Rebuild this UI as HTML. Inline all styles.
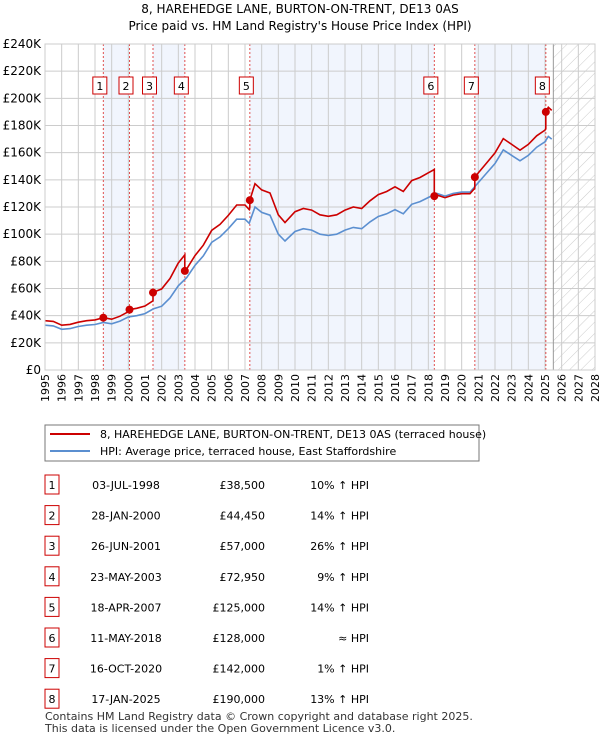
<!DOCTYPE html>
<html><head><meta charset="utf-8"><style>
body{margin:0;background:#fff;font-family:"DejaVu Sans","Liberation Sans",sans-serif;}
svg text{font-family:"DejaVu Sans","Liberation Sans",sans-serif;}
</style></head><body>
<svg id="c" width="600" height="740" xmlns="http://www.w3.org/2000/svg">
<defs><pattern id="hatch" width="8" height="8" patternUnits="userSpaceOnUse" patternTransform="rotate(45)"><line x1="0" y1="0" x2="0" y2="8" stroke="#ccc" stroke-width="1"/></pattern></defs>
<text x="300" y="13" text-anchor="middle" font-size="12" fill="#000">8, HAREHEDGE LANE, BURTON-ON-TRENT, DE13 0AS</text>
<text x="300" y="30" text-anchor="middle" font-size="12" fill="#000">Price paid vs. HM Land Registry's House Price Index (HPI)</text>
<g id="plot"></g>
<rect x="45" y="425" width="434" height="36" fill="#fff" stroke="#777"/>
<line x1="50" y1="434" x2="90" y2="434" stroke="#cc0000" stroke-width="2"/>
<text x="100" y="438" font-size="11">8, HAREHEDGE LANE, BURTON-ON-TRENT, DE13 0AS (terraced house)</text>
<line x1="50" y1="451" x2="90" y2="451" stroke="#5b8fd0" stroke-width="2"/>
<text x="100" y="455" font-size="11">HPI: Average price, terraced house, East Staffordshire</text>
<g id="table"></g>
<text x="45" y="720" font-size="11" fill="#333">Contains HM Land Registry data © Crown copyright and database right 2025.</text>
<text x="45" y="732" font-size="11" fill="#333">This data is licensed under the Open Government Licence v3.0.</text>
</svg>
<script>
const yearTicks=[1995,1996,1997,1998,1999,2000,2001,2002,2003,2004,2005,2006,2007,2008,2009,2010,2011,2012,2013,2014,2015,2016,2017,2018,2019,2020,2021,2022,2023,2024,2025,2026,2027,2028];
const priceTicks=[0,20,40,60,80,100,120,140,160,180,200,220,240];
const hpiYears=[1995,1995.5,1996,1996.5,1997,1997.5,1998,1998.5,1999,1999.5,2000,2000.5,2001,2001.5,2002,2002.5,2003,2003.5,2004,2004.5,2005,2005.5,2006,2006.5,2007,2007.25,2007.6,2008,2008.5,2009,2009.4,2010,2010.5,2011,2011.5,2012,2012.5,2013,2013.5,2014,2014.5,2015,2015.5,2016,2016.5,2017,2017.5,2018,2018.5,2019,2019.5,2020,2020.5,2021,2021.5,2022,2022.5,2023,2023.5,2024,2024.5,2025,2025.2,2025.4];
const hpiValues=[33,32.5,30,30.5,32,33,33.5,35,34,36,39,40,41.5,45,47,53,62,68,77,84,94,98,104,111,111,108,120,116,114,100,95,102,104,103,100,99,100,103,105,104,109,113,115,118,115,122,124,127,130,128,130,131,131,138,145,152,162,158,154,158,164,168,172,170];
const saleLabels=["1","2","3","4","5","6","7","8"];
const saleDates=[1998.5,2000.07,2001.48,2003.39,2007.29,2018.36,2020.79,2025.05];
const salePrices=[38.5,44.45,57,72.95,125,128,142,190];
const saleDateText=["03-JUL-1998","28-JAN-2000","26-JUN-2001","23-MAY-2003","18-APR-2007","11-MAY-2018","16-OCT-2020","17-JAN-2025"];
const salePriceText=["£38,500","£44,450","£57,000","£72,950","£125,000","£128,000","£142,000","£190,000"];
const saleHpiText=["10% ↑ HPI","14% ↑ HPI","26% ↑ HPI","9% ↑ HPI","14% ↑ HPI","≈ HPI","1% ↑ HPI","13% ↑ HPI"];

const X0=45,X1=595,Y0=370,Y1=44;
const xs=y=>X0+(y-1995)/(2028-1995)*(X1-X0);
const ys=v=>Y0-v/240*(Y0-Y1);
const NS="http://www.w3.org/2000/svg";
const plot=document.getElementById('plot');
function mk(tag,attrs,parent){const e=document.createElementNS(NS,tag);for(const k in attrs)e.setAttribute(k,attrs[k]);(parent||plot).appendChild(e);return e;}
function hpiAt(t){if(t<=hpiYears[0])return hpiValues[0];for(let i=1;i<hpiYears.length;i++){if(t<=hpiYears[i]){const f=(t-hpiYears[i-1])/(hpiYears[i]-hpiYears[i-1]);return hpiValues[i-1]+f*(hpiValues[i]-hpiValues[i-1]);}}return hpiValues[hpiValues.length-1];}

for(let i=0;i+1<saleDates.length;i+=2){
 const r=mk('rect',{x:xs(saleDates[i]),y:Y1,width:xs(saleDates[i+1])-xs(saleDates[i]),height:Y0-Y1,fill:'#eef3fc',opacity:0.8});
 
 
}
const lastT=hpiYears[hpiYears.length-1]+0.1;
const h=mk('rect',{x:xs(lastT),y:Y1,width:X1-xs(lastT),height:Y0-Y1,fill:'url(#hatch)'});


yearTicks.forEach(t=>{
 const l=mk('line',{x1:xs(t),x2:xs(t),y1:Y1,y2:Y0,stroke:'#ccc','stroke-width':1});
 
 
 const tx=mk('text',{x:0,y:0,'font-size':11,transform:`translate(${xs(t)+4},${Y0+32}) rotate(-90)`});
 tx.textContent=t;
 
 
});
priceTicks.forEach(v=>{
 const l=mk('line',{x1:X0,x2:X1,y1:ys(v),y2:ys(v),stroke:'#ccc','stroke-width':1});
 
 
 const tx=mk('text',{x:X0-4,y:ys(v)+4,'font-size':12,'text-anchor':'end'});
 tx.textContent=v===0?'£0':'£'+v+'K';
 
 
});
const vl=mk('line',{x1:xs(lastT),x2:xs(lastT),y1:Y1,y2:Y0,stroke:'#999'});


saleDates.forEach((d,i)=>{
 const l=mk('line',{x1:xs(d),x2:xs(d),y1:Y1,y2:Y0,stroke:'#e05050','stroke-width':1,'stroke-dasharray':'2,2'});
 
 
});
let dH='';hpiYears.forEach((t,i)=>{dH+=(i?'L':'M')+xs(t).toFixed(1)+','+ys(hpiValues[i]).toFixed(1);});
const hp=mk('path',{d:dH,fill:'none',stroke:'#5b8fd0','stroke-width':1.6});


const ratios=saleDates.map((d,i)=>salePrices[i]/hpiAt(d));
const pts=[];
hpiYears.forEach(t=>pts.push(t));saleDates.forEach(t=>{pts.push(t-0.001);pts.push(t);});
pts.sort((a,b)=>a-b);
let dR='';pts.forEach((t,i)=>{let k=0;for(let j=0;j<saleDates.length;j++)if(t>=saleDates[j])k=j;dR+=(i?'L':'M')+xs(t).toFixed(1)+','+ys(hpiAt(t)*ratios[k]).toFixed(1);});
const rp=mk('path',{d:dR,fill:'none',stroke:'#cc0000','stroke-width':1.6});


saleDates.forEach((d,i)=>{
 const c=mk('circle',{cx:xs(d),cy:ys(salePrices[i]),r:4,fill:'#cc0000'});
 
 
 const cx=xs(d)-3.5;
 const bx=mk('rect',{x:cx-7,y:77,width:14,height:17,fill:'#fff',stroke:'#cc0000'});
 
 
 const tx=mk('text',{x:cx,y:90,'font-size':11,'text-anchor':'middle'});
 tx.textContent=saleLabels[i];
 
 
});
mk('rect',{x:X0,y:Y1,width:X1-X0,height:Y0-Y1,fill:'none',stroke:'#ccc'});
const tb=document.getElementById('table');
saleLabels.forEach((s,i)=>{
 const y=485+i*30.6;
 const b=mk('rect',{x:45,y:y-10,width:14,height:19,fill:'#fff',stroke:'#cc0000'},tb);
 
 
 const cells=[[52,'middle',s],[126,'middle',saleDateText[i]],[265,'end',salePriceText[i]],[369,'end',saleHpiText[i]]];
 cells.forEach(c=>{const t=mk('text',{x:c[0],y:y+4,'font-size':11,'text-anchor':c[1]},tb);t.textContent=c[2];
  
  });
});
</script>
</body></html>
